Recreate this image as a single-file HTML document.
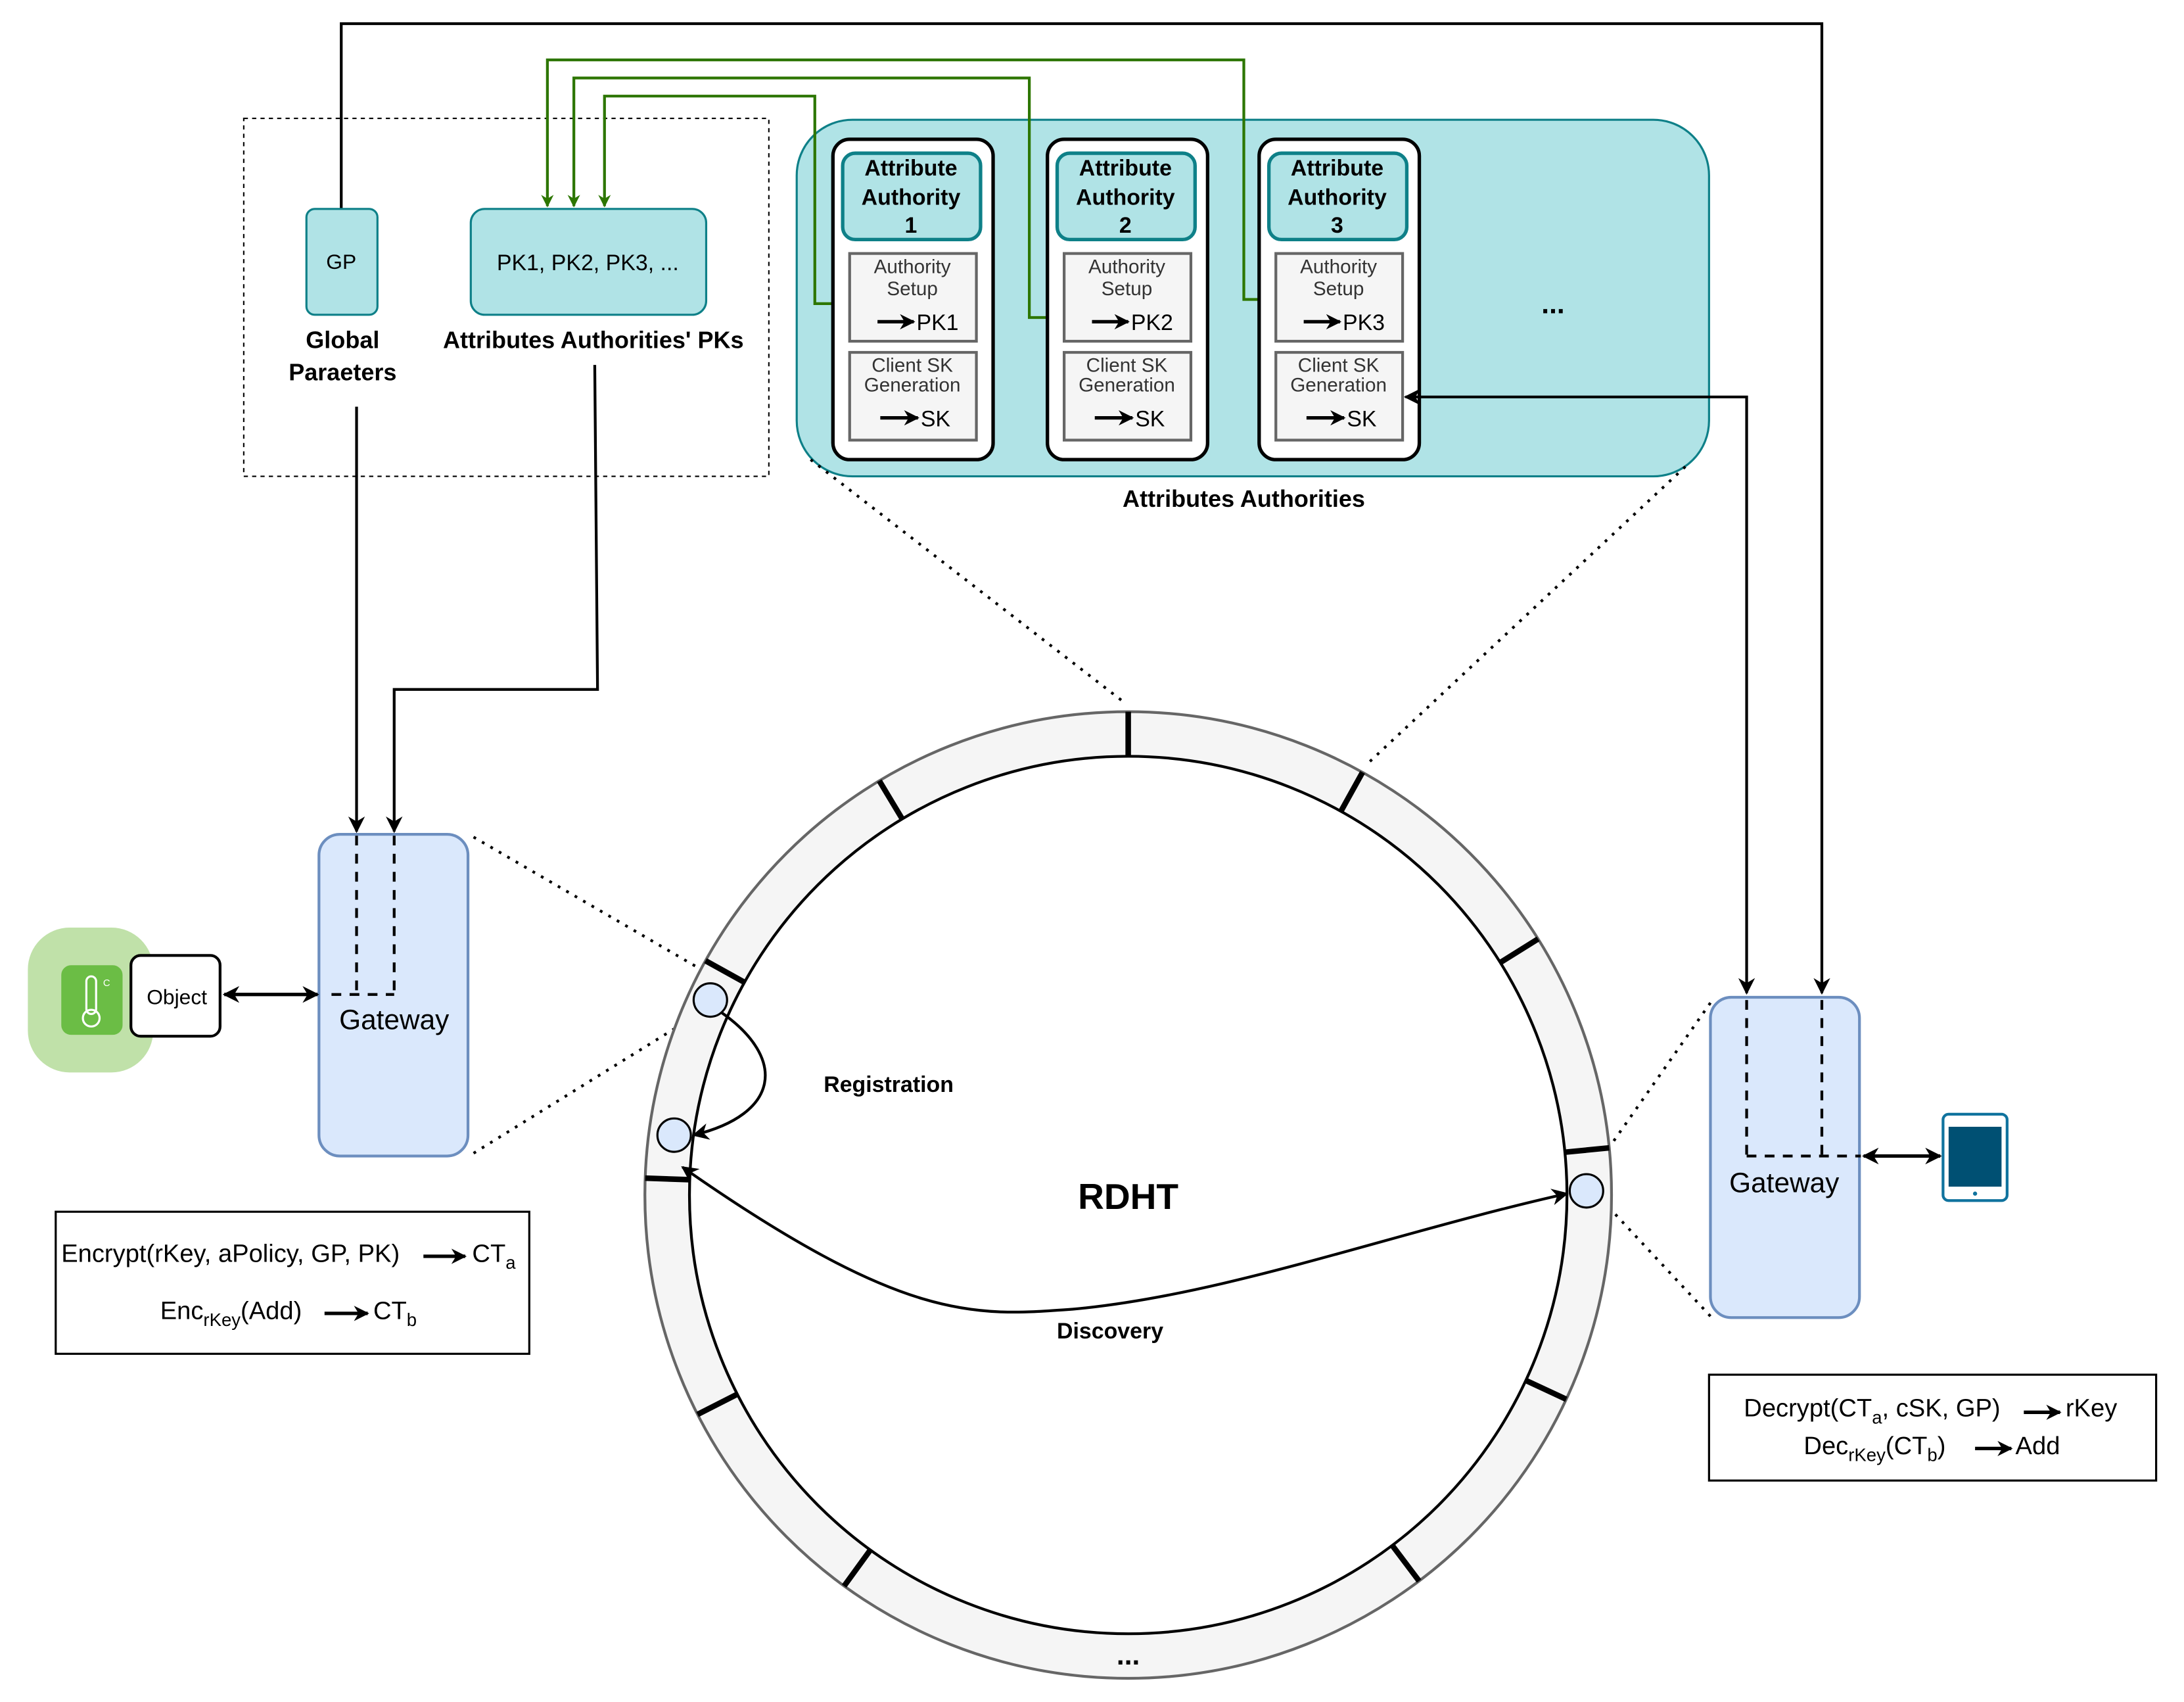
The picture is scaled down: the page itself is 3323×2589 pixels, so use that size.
<!DOCTYPE html>
<html><head><meta charset="utf-8"><style>html,body{margin:0;padding:0;background:#fff}svg{display:block}</style></head>
<body>
<svg width="3323" height="2589" viewBox="0 0 1568 1222" preserveAspectRatio="none" xmlns="http://www.w3.org/2000/svg" font-family="Liberation Sans, Arial, sans-serif">
<defs>
<marker id="ab" viewBox="0 0 10 10" refX="9" refY="5" markerWidth="11" markerHeight="11" orient="auto-start-reverse" markerUnits="userSpaceOnUse"><path d="M0,0 L10,5 L0,10 L3,5 z" fill="#000"/></marker>
<marker id="ag" viewBox="0 0 10 10" refX="9" refY="5" markerWidth="9" markerHeight="9" orient="auto" markerUnits="userSpaceOnUse"><path d="M0,0 L10,5 L0,10 L3,5 z" fill="#2d7600"/></marker>
<marker id="ak" viewBox="0 0 10 10" refX="9" refY="5" markerWidth="12" markerHeight="12" orient="auto-start-reverse" markerUnits="userSpaceOnUse"><path d="M0,0 L10,5 L0,10 L3,5 z" fill="#000"/></marker>
</defs>

<polyline points="245,150 245,17 1308,17 1308,713" fill="none" stroke="#000" stroke-width="2" marker-end="url(#ak)"/>

<rect x="175" y="85" width="377" height="257" fill="none" stroke="#000" stroke-width="1" stroke-dasharray="3,3"/>

<rect x="572" y="86" width="655" height="256" rx="40" fill="#b0e3e6" stroke="#0e8088" stroke-width="1.5"/>

<g fill="none" stroke="#2d7600" stroke-width="2">
<polyline points="915,215 893,215 893,43 393,43 393,148" marker-end="url(#ag)"/>
<polyline points="764,215 764,228 739,228 739,56 412,56 412,148" marker-end="url(#ag)"/>
<polyline points="610,218 585,218 585,69 434,69 434,148" marker-end="url(#ag)"/>
</g>

<rect x="220" y="150" width="51" height="76" rx="6" fill="#b0e3e6" stroke="#0e8088" stroke-width="1.5"/>
<text x="245" y="193" font-size="15" text-anchor="middle">GP</text>
<rect x="338" y="150" width="169" height="76" rx="10" fill="#b0e3e6" stroke="#0e8088" stroke-width="1.5"/>
<text x="422" y="194" font-size="16" text-anchor="middle">PK1, PK2, PK3, ...</text>
<text x="246" y="250" font-size="17" font-weight="bold" text-anchor="middle">Global</text>
<text x="246" y="273" font-size="17" font-weight="bold" text-anchor="middle">Paraeters</text>
<text x="426" y="250" font-size="17" font-weight="bold" text-anchor="middle">Attributes Authorities' PKs</text>

<g font-size="15">
<g transform="translate(0,0)">
<rect x="598" y="100" width="115" height="230" rx="12" fill="#fff" stroke="#000" stroke-width="2.5"/>
<rect x="605" y="110" width="99" height="62" rx="9" fill="#b0e3e6" stroke="#0e8088" stroke-width="2.5"/>
<text x="654" y="126" font-size="16" font-weight="bold" text-anchor="middle">Attribute</text>
<text x="654" y="147" font-size="16" font-weight="bold" text-anchor="middle">Authority</text>
<text x="654" y="167" font-size="16" font-weight="bold" text-anchor="middle">1</text>
<rect x="610" y="182" width="91" height="63" fill="#f5f5f5" stroke="#666" stroke-width="2"/>
<text x="655" y="196" font-size="14" fill="#333" text-anchor="middle">Authority</text>
<text x="655" y="212" font-size="14" fill="#333" text-anchor="middle">Setup</text>
<line x1="630" y1="231" x2="656" y2="231" stroke="#000" stroke-width="2.5" marker-end="url(#ab)"/>
<text x="658" y="237" font-size="16">PK1</text>
<rect x="610" y="253" width="91" height="63" fill="#f5f5f5" stroke="#666" stroke-width="2"/>
<text x="655" y="267" font-size="14" fill="#333" text-anchor="middle">Client SK</text>
<text x="655" y="281" font-size="14" fill="#333" text-anchor="middle">Generation</text>
<line x1="632" y1="300" x2="659" y2="300" stroke="#000" stroke-width="2.5" marker-end="url(#ab)"/>
<text x="661" y="306" font-size="16">SK</text>
</g>
<g transform="translate(154,0)">
<rect x="598" y="100" width="115" height="230" rx="12" fill="#fff" stroke="#000" stroke-width="2.5"/>
<rect x="605" y="110" width="99" height="62" rx="9" fill="#b0e3e6" stroke="#0e8088" stroke-width="2.5"/>
<text x="654" y="126" font-size="16" font-weight="bold" text-anchor="middle">Attribute</text>
<text x="654" y="147" font-size="16" font-weight="bold" text-anchor="middle">Authority</text>
<text x="654" y="167" font-size="16" font-weight="bold" text-anchor="middle">2</text>
<rect x="610" y="182" width="91" height="63" fill="#f5f5f5" stroke="#666" stroke-width="2"/>
<text x="655" y="196" font-size="14" fill="#333" text-anchor="middle">Authority</text>
<text x="655" y="212" font-size="14" fill="#333" text-anchor="middle">Setup</text>
<line x1="630" y1="231" x2="656" y2="231" stroke="#000" stroke-width="2.5" marker-end="url(#ab)"/>
<text x="658" y="237" font-size="16">PK2</text>
<rect x="610" y="253" width="91" height="63" fill="#f5f5f5" stroke="#666" stroke-width="2"/>
<text x="655" y="267" font-size="14" fill="#333" text-anchor="middle">Client SK</text>
<text x="655" y="281" font-size="14" fill="#333" text-anchor="middle">Generation</text>
<line x1="632" y1="300" x2="659" y2="300" stroke="#000" stroke-width="2.5" marker-end="url(#ab)"/>
<text x="661" y="306" font-size="16">SK</text>
</g>
<g transform="translate(306,0)">
<rect x="598" y="100" width="115" height="230" rx="12" fill="#fff" stroke="#000" stroke-width="2.5"/>
<rect x="605" y="110" width="99" height="62" rx="9" fill="#b0e3e6" stroke="#0e8088" stroke-width="2.5"/>
<text x="654" y="126" font-size="16" font-weight="bold" text-anchor="middle">Attribute</text>
<text x="654" y="147" font-size="16" font-weight="bold" text-anchor="middle">Authority</text>
<text x="654" y="167" font-size="16" font-weight="bold" text-anchor="middle">3</text>
<rect x="610" y="182" width="91" height="63" fill="#f5f5f5" stroke="#666" stroke-width="2"/>
<text x="655" y="196" font-size="14" fill="#333" text-anchor="middle">Authority</text>
<text x="655" y="212" font-size="14" fill="#333" text-anchor="middle">Setup</text>
<line x1="630" y1="231" x2="656" y2="231" stroke="#000" stroke-width="2.5" marker-end="url(#ab)"/>
<text x="658" y="237" font-size="16">PK3</text>
<rect x="610" y="253" width="91" height="63" fill="#f5f5f5" stroke="#666" stroke-width="2"/>
<text x="655" y="267" font-size="14" fill="#333" text-anchor="middle">Client SK</text>
<text x="655" y="281" font-size="14" fill="#333" text-anchor="middle">Generation</text>
<line x1="632" y1="300" x2="659" y2="300" stroke="#000" stroke-width="2.5" marker-end="url(#ab)"/>
<text x="661" y="306" font-size="16">SK</text>
</g>
</g>
<text x="1115" y="225" font-size="20" font-weight="bold" text-anchor="middle">...</text>
<text x="893" y="364" font-size="17" font-weight="bold" text-anchor="middle">Attributes Authorities</text>

<polyline points="1254,713 1254,285 1009,285" fill="none" stroke="#000" stroke-width="2" marker-start="url(#ak)" marker-end="url(#ak)"/>

<g stroke="#000" stroke-width="2" stroke-dasharray="2,5" fill="none">
<line x1="582" y1="330" x2="808" y2="505"/>
<line x1="1210" y1="335" x2="980" y2="550"/>
<line x1="340" y1="601" x2="505" y2="697"/>
<line x1="340" y1="828" x2="490" y2="735"/>
<line x1="1228" y1="720" x2="1158" y2="820"/>
<line x1="1228" y1="945" x2="1158" y2="870"/>
</g>

<circle cx="810" cy="858" r="331" fill="none" stroke="#f5f5f5" stroke-width="32"/>
<circle cx="810" cy="858" r="347" fill="none" stroke="#666" stroke-width="2"/>
<circle cx="810" cy="858" r="315" fill="#fff" stroke="#000" stroke-width="2"/>
<g stroke="#000" stroke-width="4">
<line x1="1125" y1="858" x2="1157" y2="858" transform="rotate(-90 810 858)"/>
<line x1="1125" y1="858" x2="1157" y2="858" transform="rotate(-121 810 858)"/>
<line x1="1125" y1="858" x2="1157" y2="858" transform="rotate(-61 810 858)"/>
<line x1="1125" y1="858" x2="1157" y2="858" transform="rotate(-32 810 858)"/>
<line x1="1125" y1="858" x2="1157" y2="858" transform="rotate(-151 810 858)"/>
<line x1="1125" y1="858" x2="1157" y2="858" transform="rotate(-178 810 858)"/>
<line x1="1125" y1="858" x2="1157" y2="858" transform="rotate(-5.6 810 858)"/>
<line x1="1125" y1="858" x2="1157" y2="858" transform="rotate(25 810 858)"/>
<line x1="1125" y1="858" x2="1157" y2="858" transform="rotate(153 810 858)"/>
<line x1="1125" y1="858" x2="1157" y2="858" transform="rotate(53 810 858)"/>
<line x1="1125" y1="858" x2="1157" y2="858" transform="rotate(126 810 858)"/>
</g>
<text x="810" y="1195" font-size="20" font-weight="bold" text-anchor="middle">...</text>
<text x="810" y="868" font-size="26" font-weight="bold" text-anchor="middle">RDHT</text>

<g fill="#dae8fc" stroke="#000" stroke-width="1.5">
<circle cx="510" cy="718" r="12"/>
<circle cx="484" cy="815" r="12"/>
<circle cx="1139" cy="855" r="12"/>
</g>
<path d="M518,727 C565,760 560,800 498,815" fill="none" stroke="#000" stroke-width="2" marker-end="url(#ak)"/>
<text x="638" y="784" font-size="16" font-weight="bold" text-anchor="middle">Registration</text>
<path d="M490,838 C650,950 700,945 770,940 C880,930 1000,885 1125,857" fill="none" stroke="#000" stroke-width="2" marker-start="url(#ak)" marker-end="url(#ak)"/>
<text x="797" y="961" font-size="16" font-weight="bold" text-anchor="middle">Discovery</text>

<rect x="229" y="599" width="107" height="231" rx="15" fill="#dae8fc" stroke="#6c8ebf" stroke-width="2"/>
<text x="283" y="739" font-size="20" text-anchor="middle">Gateway</text>
<polyline points="256,292 256,597" fill="none" stroke="#000" stroke-width="2" marker-end="url(#ak)"/>
<polyline points="427,262 429,495 283,495 283,597" fill="none" stroke="#000" stroke-width="2" marker-end="url(#ak)"/>
<g stroke="#000" stroke-width="2" stroke-dasharray="7,6" fill="none">
<line x1="256" y1="600" x2="256" y2="714"/>
<line x1="283" y1="600" x2="283" y2="714"/>
<line x1="238" y1="714" x2="283" y2="714"/>
</g>

<rect x="20" y="666" width="90" height="104" rx="30" fill="#c0e1a9"/>
<rect x="44" y="693" width="44" height="50" rx="7" fill="#6bbd45"/>
<rect x="62" y="701" width="7" height="27" rx="3.5" fill="none" stroke="#fff" stroke-width="1.5"/>
<circle cx="65.5" cy="731" r="6" fill="none" stroke="#fff" stroke-width="1.5"/>
<text x="74" y="708" font-size="7" fill="#fff">C</text>
<rect x="94" y="686" width="64" height="58" rx="7" fill="#fff" stroke="#000" stroke-width="2"/>
<text x="127" y="721" font-size="15" text-anchor="middle">Object</text>
<line x1="161" y1="714" x2="228" y2="714" stroke="#000" stroke-width="2.5" marker-start="url(#ak)" marker-end="url(#ak)"/>

<rect x="40" y="870" width="340" height="102" fill="#fff" stroke="#000" stroke-width="1.5"/>
<text x="44" y="906" font-size="18">Encrypt(rKey, aPolicy, GP, PK)</text>
<line x1="304" y1="902" x2="334" y2="902" stroke="#000" stroke-width="2.5" marker-end="url(#ab)"/>
<text x="339" y="906" font-size="18">CT<tspan font-size="13" dy="5">a</tspan></text>
<text x="115" y="947" font-size="18">Enc<tspan font-size="13" dy="5">rKey</tspan><tspan dy="-5">(Add)</tspan></text>
<line x1="233" y1="943" x2="264" y2="943" stroke="#000" stroke-width="2.5" marker-end="url(#ab)"/>
<text x="268" y="947" font-size="18">CT<tspan font-size="13" dy="5">b</tspan></text>

<rect x="1228" y="716" width="107" height="230" rx="15" fill="#dae8fc" stroke="#6c8ebf" stroke-width="2"/>
<text x="1281" y="856" font-size="20" text-anchor="middle">Gateway</text>
<g stroke="#000" stroke-width="2" stroke-dasharray="7,6" fill="none">
<line x1="1254" y1="718" x2="1254" y2="830"/>
<line x1="1308" y1="718" x2="1308" y2="830"/>
<line x1="1254" y1="830" x2="1336" y2="830"/>
</g>
<line x1="1338" y1="830" x2="1393" y2="830" stroke="#000" stroke-width="2.5" marker-start="url(#ak)" marker-end="url(#ak)"/>
<rect x="1395" y="800" width="46" height="62" rx="4" fill="#fff" stroke="#10739e" stroke-width="2"/>
<rect x="1399" y="809" width="38" height="43" fill="#005073"/>
<circle cx="1418" cy="857" r="1.5" fill="#10739e"/>

<rect x="1227" y="987" width="321" height="76" fill="#fff" stroke="#000" stroke-width="1.5"/>
<text x="1252" y="1017" font-size="18">Decrypt(CT<tspan font-size="13" dy="5">a</tspan><tspan dy="-5">, cSK, GP)</tspan></text>
<line x1="1453" y1="1014" x2="1479" y2="1014" stroke="#000" stroke-width="2.5" marker-end="url(#ab)"/>
<text x="1483" y="1017" font-size="18">rKey</text>
<text x="1295" y="1044" font-size="18">Dec<tspan font-size="13" dy="5">rKey</tspan><tspan dy="-5">(CT</tspan><tspan font-size="13" dy="5">b</tspan><tspan dy="-5">)</tspan></text>
<line x1="1418" y1="1040" x2="1444" y2="1040" stroke="#000" stroke-width="2.5" marker-end="url(#ab)"/>
<text x="1447" y="1044" font-size="18">Add</text>
</svg>
</body></html>
